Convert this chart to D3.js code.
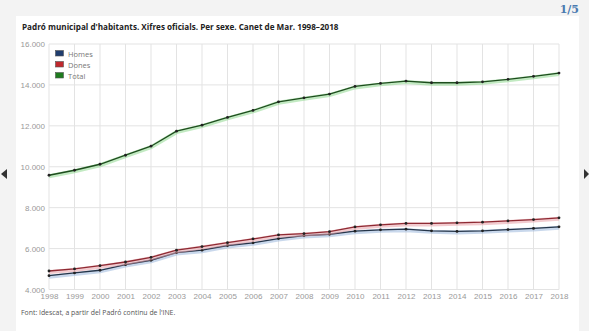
<!DOCTYPE html>
<html><head><meta charset="utf-8">
<script src="https://cdn.jsdelivr.net/npm/d3@7"></script>
<style>
html,body{margin:0;padding:0;background:#f3f3f3;}
svg{display:block;font-family:"Open Sans","DejaVu Sans",sans-serif;}
</style></head>
<body><svg id="c" width="589" height="331"></svg>
<script>
const years = [1998,1999,2000,2001,2002,2003,2004,2005,2006,2007,2008,2009,2010,2011,2012,2013,2014,2015,2016,2017,2018];
const homes = [4675,4810,4940,5215,5430,5805,5920,6150,6280,6490,6635,6700,6850,6915,6950,6870,6840,6870,6930,6985,7065];
const dones = [4905,5005,5165,5345,5575,5920,6100,6290,6470,6670,6735,6825,7060,7160,7230,7230,7260,7290,7350,7420,7505];
const total = [9584,9829,10122,10563,11004,11739,12033,12410,12752,13174,13370,13551,13928,14075,14188,14105,14105,14153,14271,14418,14580];
const yTicks = [4000,6000,8000,10000,12000,14000,16000];
const seriesNames = ["Homes","Dones","Total"];

const svg = d3.select("#c");
svg.append("rect").attr("x",16).attr("y",16).attr("width",563).attr("height",320).attr("fill","#fff");

const x = d3.scalePoint().domain(years).range([49,559]);
const y = d3.scaleLinear().domain([4000,16000]).range([289.5,44]);

svg.append("g").selectAll("line").data(yTicks).join("line")
  .attr("x1",49).attr("x2",559).attr("y1",d=>y(d)).attr("y2",d=>y(d))
  .attr("stroke","#e3e3e3").attr("stroke-width",1);
svg.append("g").selectAll("line").data(years).join("line")
  .attr("x1",d=>x(d)).attr("x2",d=>x(d)).attr("y1",44).attr("y2",289.5)
  .attr("stroke","#e3e3e3").attr("stroke-width",1);

const yAxis = d3.axisLeft(y).tickValues(yTicks).tickSize(0).tickPadding(4)
  .tickFormat(d => d3.format(".3f")(d/1000));
const gy = svg.append("g").attr("transform","translate(49,0)").call(yAxis);
gy.select(".domain").remove();
gy.selectAll("text").attr("fill","#999").attr("font-size","8px");

const xAxis = d3.axisBottom(x).tickSize(0).tickPadding(4).tickFormat(d=>String(d));
const gx = svg.append("g").attr("transform","translate(0,289.5)").call(xAxis);
gx.select(".domain").remove();
gx.selectAll("text").attr("fill","#999").attr("font-size","8px");

const line = d3.line().x((d,i)=>x(years[i])).y(d=>y(d));
const series = [
  {name:"Homes", data:homes, glow:"#9db8dc", stroke:"#26364a"},
  {name:"Dones", data:dones, glow:"#e8a0a8", stroke:"#8e2a33"},
  {name:"Total", data:total, glow:"#8fd88f", stroke:"#1e4d1e"}
];
series.forEach(s=>{
  svg.append("path").attr("d",line(s.data)).attr("fill","none")
    .attr("stroke",s.glow).attr("stroke-width",4).attr("stroke-opacity",0.55)
    .attr("transform","translate(0,1)");
  svg.append("path").attr("d",line(s.data)).attr("fill","none")
    .attr("stroke",s.stroke).attr("stroke-width",1.3);
  svg.append("g").selectAll("circle").data(s.data).join("circle")
    .attr("cx",(d,i)=>x(years[i])).attr("cy",d=>y(d)).attr("r",1.4)
    .attr("fill","#222");
});

const legColors = ["#1f3d6e","#c0282d","#1e7b1e"];
const lg = svg.append("g");
seriesNames.forEach((n,i)=>{
  lg.append("rect").attr("x",55.5).attr("y",50.5+i*11).attr("width",8).attr("height",5.5)
    .attr("fill",legColors[i]).attr("stroke","#555").attr("stroke-width",0.6);
  lg.append("text").attr("x",68).attr("y",56.5+i*11).text(n)
    .attr("font-size","7.5px").attr("fill","#777");
});

svg.append("text").attr("x",22).attr("y",30)
  .text("Padró municipal d'habitants. Xifres oficials. Per sexe. Canet de Mar. 1998–2018")
  .attr("font-size","8.15px").attr("font-weight","bold").attr("fill","#222");

svg.append("text").attr("x",21).attr("y",315)
  .text("Font: Idescat, a partir del Padró continu de l'INE.")
  .attr("font-size","6.9px").attr("fill","#555");

svg.append("text").attr("x",579).attr("y",13).attr("text-anchor","end")
  .text("1/5").attr("font-family","'DejaVu Serif','Liberation Serif',serif")
  .attr("font-size","11px").attr("font-weight","bold").attr("fill","#4a7ab0");

svg.append("path").attr("d","M1,174 L7,169 L7,179 Z").attr("fill","#333");
svg.append("path").attr("d","M589,174 L584,169 L584,179 Z").attr("fill","#333");
</script></body></html>
